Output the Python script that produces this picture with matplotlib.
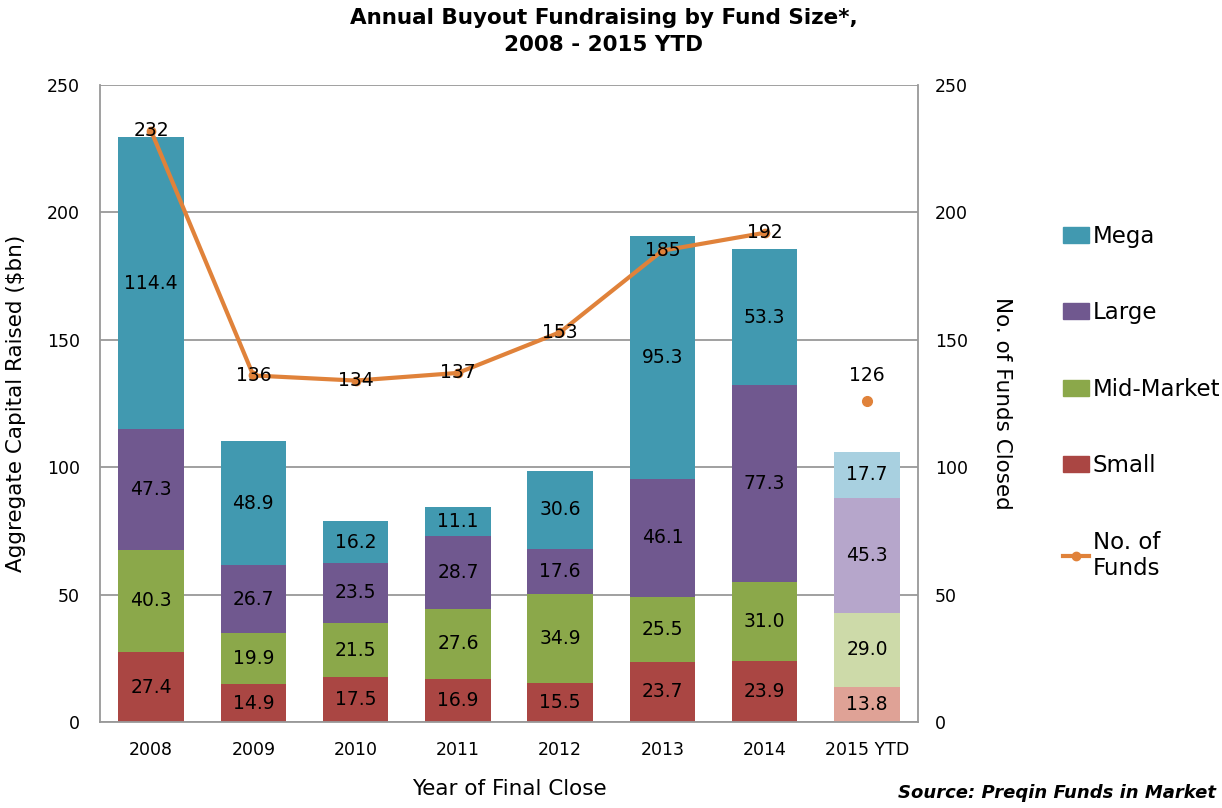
import numpy as np
import matplotlib.pyplot as plt
from matplotlib.lines import Line2D
from matplotlib.patches import Patch

# data
years = ["2008", "2009", "2010", "2011", "2012", "2013", "2014", "2015 YTD"]
small = [27.4, 14.9, 17.5, 16.9, 15.5, 23.7, 23.9, 13.8]
mid_market = [40.3, 19.9, 21.5, 27.6, 34.9, 25.5, 31.0, 29.0]
large = [47.3, 26.7, 23.5, 28.7, 17.6, 46.1, 77.3, 45.3]
mega = [114.4, 48.9, 16.2, 11.1, 30.6, 95.3, 53.3, 17.7]
num_funds = [232, 136, 134, 137, 153, 185, 192, 126]

series = [("Small", small, "#AA4643", "#DFA296"),
          ("Mid-Market", mid_market, "#8BA84A", "#CDDAA9"),
          ("Large", large, "#70588F", "#B6A6CB"),
          ("Mega", mega, "#4199B0", "#A8D0E0")]

plt.rcParams['font.family'] = ['DejaVu Sans']

fig = plt.figure(figsize=(12.22, 8.08), dpi=100)
ax = fig.add_axes([0.0818, 0.1064, 0.6695, 0.7884])
ax2 = ax.twinx()

x = np.arange(len(years))
bottom = np.zeros(len(years))
for name, vals, col, light in series:
    vals = np.array(vals)
    colors = [col] * (len(years) - 1) + [light]
    ax.bar(x, vals, width=0.64, bottom=bottom, color=colors, zorder=2)
    for xi, b, v in zip(x, bottom, vals):
        ax.text(xi, b + v / 2, f"{v:.1f}", ha="center", va="center",
                fontsize=13.5, color="black", zorder=4)
    bottom += vals

# gridlines and frame
ax.set_ylim(0, 250)
ax.set_xlim(-0.5, len(years) - 0.5)
ax.set_yticks(np.arange(0, 251, 50))
ax.grid(axis="y", color="#999999", linewidth=1.3, zorder=0)
ax.set_axisbelow(True)
for s in ["left", "right", "bottom"]:
    ax.spines[s].set_color("#999999")
    ax.spines[s].set_linewidth(1.3)
ax.spines["top"].set_visible(False)
ax.tick_params(axis="y", length=0, labelsize=12.5, pad=14.5)
ax.tick_params(axis="x", length=0, labelsize=12.5, pad=14)
ax.set_xticks(x)
ax.set_xticklabels(years)
ax.set_ylabel("Aggregate Capital Raised ($bn)", fontsize=15.5, labelpad=15)
ax.set_xlabel("Year of Final Close", fontsize=15.5, labelpad=14)

# number of funds line (2015 YTD as a separate point)
orange = "#E0823A"
ax2.plot(x[:-1], num_funds[:-1], color=orange, linewidth=3, marker="o",
         markersize=6, zorder=5)
ax2.plot(x[-1:], num_funds[-1:], color=orange, linestyle="none", marker="o",
         markersize=7, zorder=5)
for xi, n in zip(x[:-1], num_funds[:-1]):
    ax2.text(xi, n, str(n), ha="center", va="center", fontsize=13.5, zorder=6)
ax2.text(x[-1], num_funds[-1] + 10, str(num_funds[-1]), ha="center",
         va="center", fontsize=13.5, zorder=6)
ax2.set_ylim(0, 250)
ax2.set_yticks(np.arange(0, 251, 50))
ax2.tick_params(length=0, labelsize=12.5, pad=12)
for s in ["left", "right", "bottom", "top"]:
    ax2.spines[s].set_visible(False)
ax2.set_ylabel("No. of Funds Closed", fontsize=15.5, rotation=270, labelpad=32)

fig.text(0.494, 0.961, "Annual Buyout Fundraising by Fund Size*,\n2008 - 2015 YTD",
         ha="center", va="center", fontsize=15.5, fontweight="bold", linespacing=1.45)
fig.text(0.995, 0.018, "Source: Preqin Funds in Market", ha="right", va="center",
         fontsize=13, fontweight="bold", style="italic")

handles = [Patch(color=c) for _, _, c, _ in series[::-1]]
handles.append(Line2D([0], [0], color=orange, linewidth=3, marker="o", markersize=6))
labels = ["Mega", "Large", "Mid-Market", "Small", "No. of\nFunds"]
fig.legend(handles, labels, loc="upper left", bbox_to_anchor=(0.853, 0.747),
           frameon=False, fontsize=16.5, labelspacing=2.33, handlelength=1.15,
           handletextpad=0.15)

fig.savefig("out.png", dpi=100)
